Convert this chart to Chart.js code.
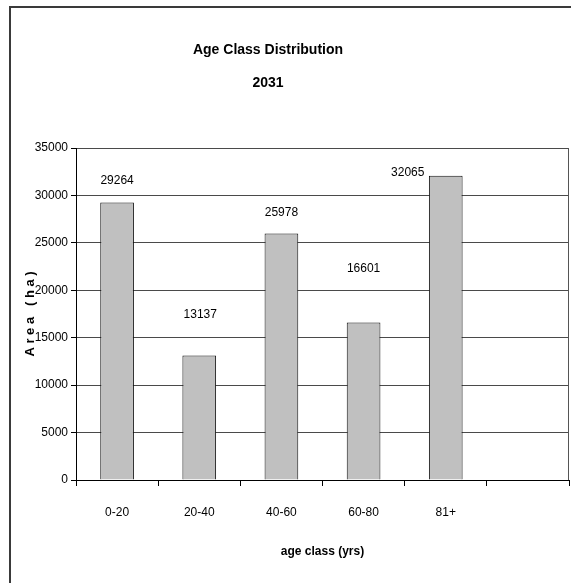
<!DOCTYPE html>
<html>
<head>
<meta charset="utf-8">
<script src="https://cdn.jsdelivr.net/npm/chart.js"></script>
<style>
  html, body { margin: 0; padding: 0; background: #fff; overflow: hidden; }
  #wrap { position: relative; width: 571px; height: 583px; }
  #frame { position: absolute; left: 9px; top: 6px; width: 700px; height: 700px; border: 2px solid #3a3a3a; }
  canvas { position: absolute; left: 0; top: 0; }
</style>
</head>
<body>
<div id="wrap">
  <div id="frame"></div>
  <canvas id="ageChart" width="571" height="583"></canvas>
</div>
<script>
// Age class data (year 2031)
const ageClasses = ['0-20', '20-40', '40-60', '60-80', '81+', ''];
const areaValues = [29264, 13137, 25978, 16601, 32065, null];
const yTicks = [0, 5000, 10000, 15000, 20000, 25000, 30000, 35000];
const titleLines = ['Age Class Distribution', '2031'];

const FONT = '"Liberation Sans", Arial, sans-serif';

// draws the two-line title (off-centre like the original)
const titlePlugin = {
    id: 'offTitle',
    afterDraw(chart, args, opts) {
        const ctx = chart.ctx;
        ctx.save();
        ctx.fillStyle = '#000';
        ctx.font = 'bold 14px ' + FONT;
        ctx.textAlign = 'center';
        ctx.textBaseline = 'middle';
        titleLines.forEach((line, i) => {
            ctx.fillText(line, opts.x, opts.y + i * opts.gap);
        });
        ctx.restore();
    }
};

// value labels above bars, with small per-bar nudges
const valueLabels = {
    id: 'valueLabels',
    afterDatasetsDraw(chart, args, opts) {
        const ctx = chart.ctx;
        const meta = chart.getDatasetMeta(0);
        ctx.save();
        ctx.fillStyle = '#000';
        ctx.font = '12px ' + FONT;
        ctx.textAlign = 'center';
        ctx.textBaseline = 'middle';
        meta.data.forEach((bar, i) => {
            const v = areaValues[i];
            if (v == null) return;
            const off = opts.offsets[i] || [0, -20];
            ctx.fillText(String(v), bar.x + off[0], bar.y + off[1]);
        });
        ctx.restore();
    }
};

// right edge of the plot area
const plotEdge = {
    id: 'plotEdge',
    beforeDatasetsDraw(chart) {
        const {ctx, chartArea} = chart;
        ctx.save();
        ctx.strokeStyle = '#555';
        ctx.lineWidth = 1;
        ctx.beginPath();
        ctx.moveTo(chartArea.right - 0.5, chartArea.top);
        ctx.lineTo(chartArea.right - 0.5, chartArea.bottom);
        ctx.stroke();
        ctx.restore();
    }
};

new Chart(document.getElementById('ageChart'), {
    type: 'bar',
    data: {
        labels: ageClasses,
        datasets: [{
            data: areaValues,
            backgroundColor: '#c0c0c0',
            borderColor: '#111',
            borderWidth: 1,
            barPercentage: 0.41,
            categoryPercentage: 1.0
        }]
    },
    options: {
        responsive: false,
        animation: false,
        layout: {
            padding: { top: 148, right: 2, bottom: 0, left: 10 }
        },
        plugins: {
            legend: { display: false },
            tooltip: { enabled: false },
            title: { display: false },
            offTitle: { x: 268, y: 50, gap: 33 },
            valueLabels: {
                offsets: [[0, -22], [1, -41], [0, -21], [0, -54], [-38, -3]]
            }
        },
        scales: {
            x: {
                afterFit: function(scale) { scale.height = 103; },
                grid: {
                    display: true,
                    drawOnChartArea: false,
                    drawTicks: true,
                    tickLength: 6,
                    tickColor: '#000',
                    offset: true
                },
                border: { display: true, color: '#000', width: 1 },
                ticks: {
                    color: '#000',
                    font: { family: FONT, size: 12 },
                    padding: 19,
                    maxRotation: 0
                },
                title: {
                    display: true,
                    text: 'age class (yrs)',
                    color: '#000',
                    font: { family: FONT, size: 12, weight: 'bold' },
                    padding: { top: 4, bottom: 24 }
                }
            },
            y: {
                min: 0,
                max: 35000,
                afterFit: function(scale) { scale.width = 66; },
                afterBuildTicks: function(scale) {
                    scale.ticks = yTicks.map(v => ({ value: v }));
                },
                grid: {
                    color: '#4a4a4a',
                    tickColor: '#000',
                    tickLength: 5,
                    drawTicks: true
                },
                border: { display: true, color: '#000', width: 1 },
                ticks: {
                    color: '#000',
                    font: { family: FONT, size: 12 },
                    padding: 3,
                    callback: function(value) { return String(value); }
                },
                title: {
                    display: true,
                    text: 'A r e a   ( h a )',
                    color: '#000',
                    font: { family: FONT, size: 13, weight: 'bold' },
                    padding: { top: 13, bottom: 0 }
                }
            }
        }
    },
    plugins: [titlePlugin, valueLabels, plotEdge]
});
</script>
</body>
</html>
